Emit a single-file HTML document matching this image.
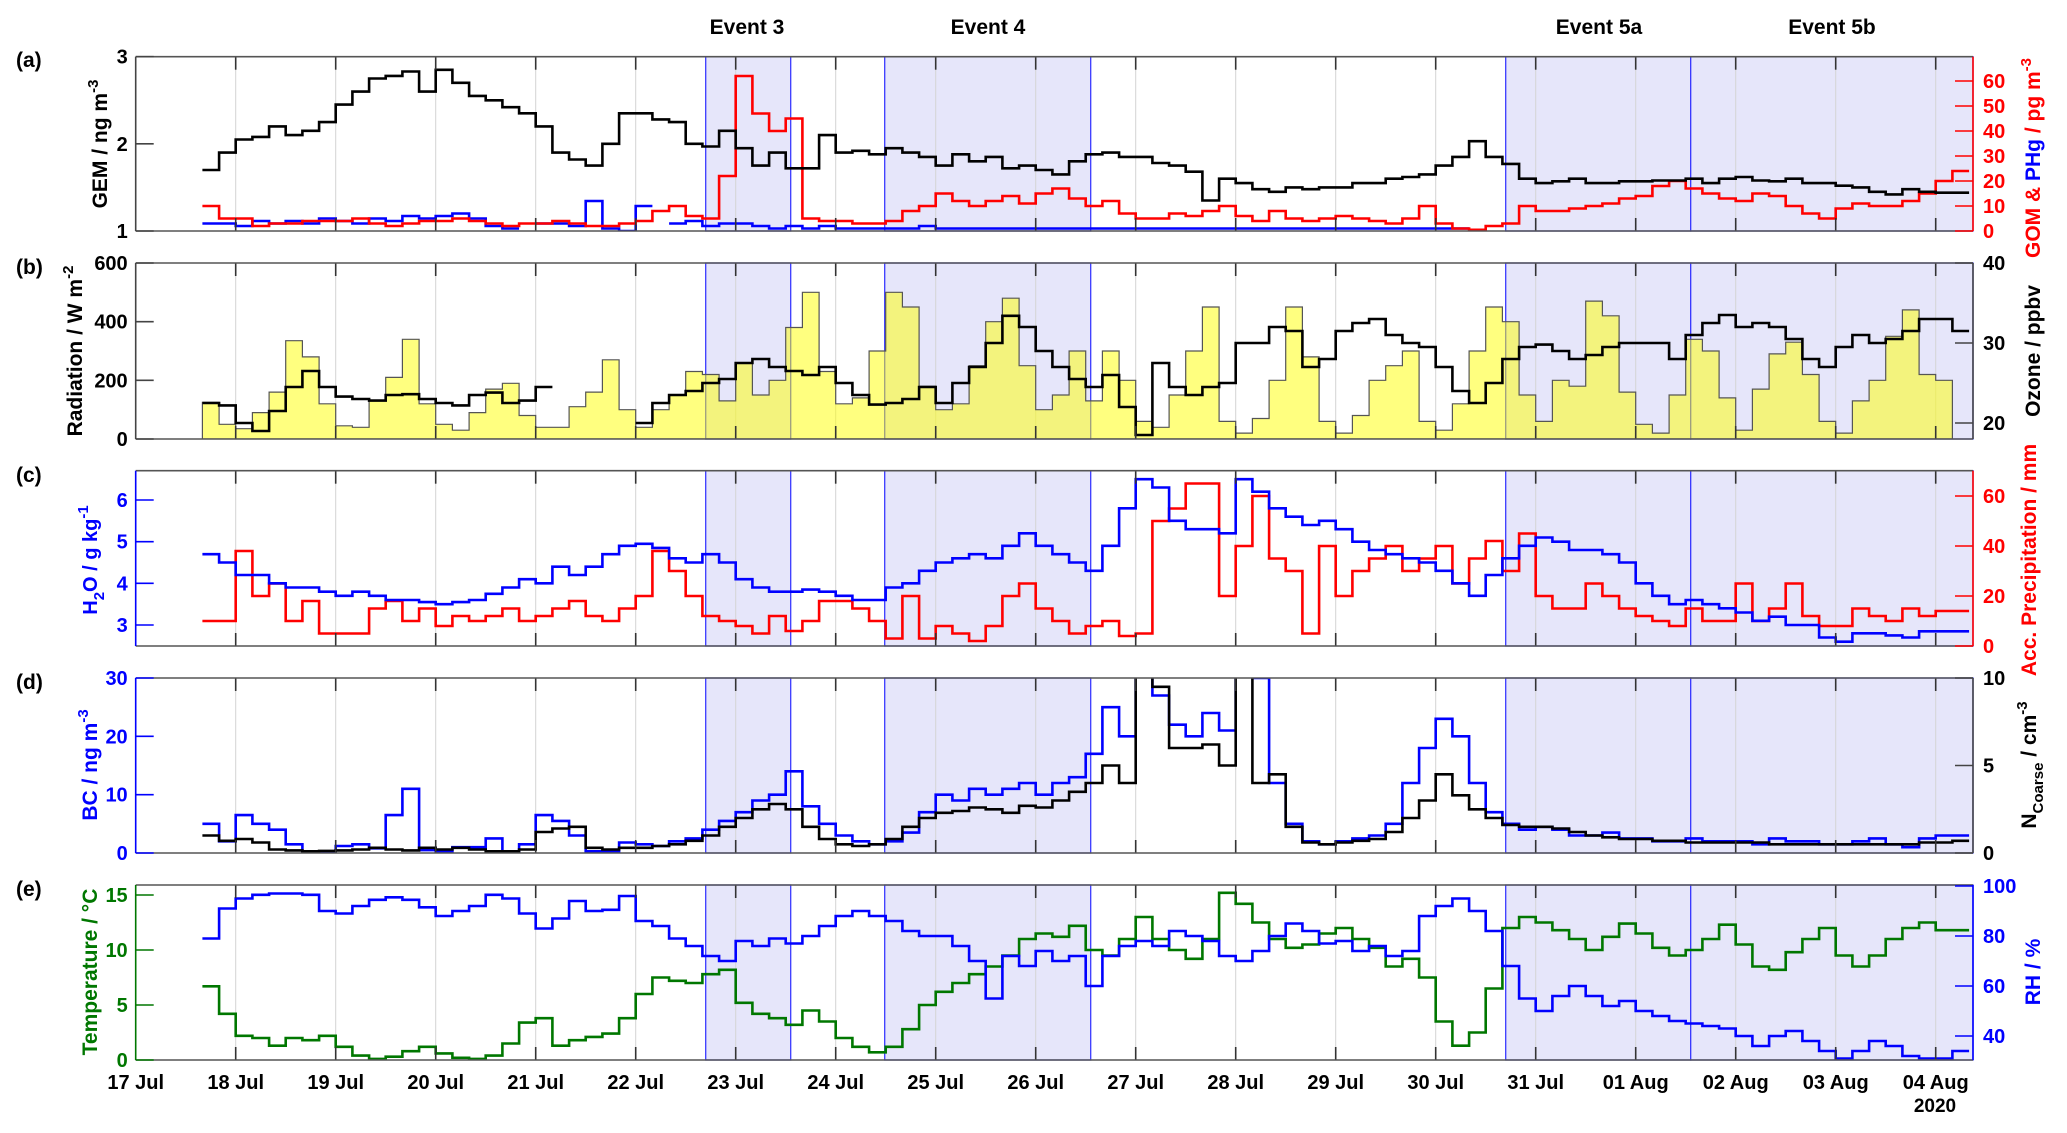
<!DOCTYPE html>
<html><head><meta charset="utf-8"><title>Mercury time series</title>
<style>
html,body{margin:0;padding:0;background:#fff;}
svg{display:block;font-family:"Liberation Sans",Arial,sans-serif;font-weight:bold;}
</style></head>
<body>
<svg id="chart" width="2067" height="1133" viewBox="0 0 2067 1133" xmlns="http://www.w3.org/2000/svg">
<g id="layer-shade"></g>
<g id="layer-grid"></g>
<g id="layer-series"></g>
<g id="layer-axes"></g>
<g id="layer-text">
  <text x="747" y="34" font-size="21" text-anchor="middle">Event 3</text>
  <text x="988" y="34" font-size="21" text-anchor="middle">Event 4</text>
  <text x="1599" y="34" font-size="21" text-anchor="middle">Event 5a</text>
  <text x="1832" y="34" font-size="21" text-anchor="middle">Event 5b</text>
  <text x="16" y="67" font-size="21">(a)</text>
  <text x="16" y="274" font-size="21">(b)</text>
  <text x="16" y="482" font-size="21">(c)</text>
  <text x="16" y="689" font-size="21">(d)</text>
  <text x="16" y="896" font-size="21">(e)</text>
  <text x="1935" y="1112" font-size="19" text-anchor="middle">2020</text>
  <text transform="translate(107,144) rotate(-90)" font-size="21" text-anchor="middle" fill="#000">GEM / ng m<tspan dy="-9" font-size="15">-3</tspan></text>
  <text transform="translate(82,351) rotate(-90)" font-size="21" text-anchor="middle" fill="#000">Radiation / W m<tspan dy="-9" font-size="15">-2</tspan></text>
  <text transform="translate(97,560) rotate(-90)" font-size="20" text-anchor="middle" fill="#0000ff">H<tspan dy="7" font-size="15">2</tspan><tspan dy="-7">O / g kg</tspan><tspan dy="-9" font-size="15">-1</tspan></text>
  <text transform="translate(97,765) rotate(-90)" font-size="21" text-anchor="middle" fill="#0000ff">BC / ng m<tspan dy="-9" font-size="15">-3</tspan></text>
  <text transform="translate(97,972) rotate(-90)" font-size="21" text-anchor="middle" fill="#007700">Temperature / °C</text>
  <text transform="translate(2040,158) rotate(-90)" font-size="21" text-anchor="middle" fill="#ff0000">GOM &amp; <tspan fill="#0000ff">PHg</tspan>  / pg m<tspan dy="-9" font-size="15">-3</tspan></text>
  <text transform="translate(2040,351) rotate(-90)" font-size="21" text-anchor="middle" fill="#000">Ozone / ppbv</text>
  <text transform="translate(2036,560) rotate(-90)" font-size="21" text-anchor="middle" fill="#ff0000">Acc. Precipitation / mm</text>
  <text transform="translate(2036,765) rotate(-90)" font-size="21" text-anchor="middle" fill="#000">N<tspan dy="7" font-size="15">Coarse</tspan><tspan dy="-7"> / cm</tspan><tspan dy="-9" font-size="15">-3</tspan></text>
  <text transform="translate(2040,972) rotate(-90)" font-size="21" text-anchor="middle" fill="#0000ff">RH / %</text>
</g>
</svg>
<script>
const T0 = 0.667;
const DT = 1/6;
const dayLabels = ['17 Jul','18 Jul','19 Jul','20 Jul','21 Jul','22 Jul','23 Jul','24 Jul','25 Jul','26 Jul','27 Jul','28 Jul','29 Jul','30 Jul','31 Jul','01 Aug','02 Aug','03 Aug','04 Aug'];
const eventStarts = [5.7, 7.49, 13.7, 15.55];
const eventEnds = [6.55, 9.55, 15.55, 18.38];

const gem = [1.7,1.9, 2.05,2.08,2.2,2.1,2.15,2.25, 2.45,2.6,2.75,2.78,2.83,2.6, 2.85,2.7,2.55,2.5,2.42,2.35, 2.2,1.9,1.82,1.75,2.0,2.35, 2.35,2.28,2.25,2.0,1.97,2.15, 1.95,1.75,1.9,1.72,1.72,2.1, 1.9,1.92,1.88,1.95,1.9,1.85, 1.75,1.88,1.8,1.85,1.72,1.75, 1.7,1.65,1.8,1.88,1.9,1.85, 1.85,1.78,1.75,1.68,1.35,1.6, 1.55,1.48,1.45,1.5,1.48,1.5, 1.5,1.55,1.55,1.6,1.62,1.65, 1.75,1.85,2.03,1.85,1.77,1.6, 1.55,1.57,1.6,1.55,1.55,1.57, 1.57,1.58,1.58,1.6,1.55,1.6, 1.62,1.58,1.57,1.6,1.55,1.55, 1.52,1.5,1.45,1.42,1.48,1.45, 1.44,1.44];
const gom = [10,5, 5,2,3,3,4,4, 4,5,3,2,3,4, 4,5,4,3,2,3, 3,4,3,2,2,3, 4,8,10,6,5,22, 62,47,40,45,5,4, 4,3,3,4,8,10, 15,12,10,12,14,11, 15,17,13,10,12,7, 5,5,7,6,8,10, 6,4,8,5,4,5, 6,5,4,3,5,10, 3,1,0.5,2,3,10, 8,8,9,10,11,13, 14,18,20,17,15,13, 12,15,14,10,7,5, 9,11,10,10,12,15, 20,24];
const phg = [3,3, 2,4,3,4,3,5, 4,3,5,4,6,5, 6,7,5,2,1,null, 3,3,2,12,1,0, 10,null,3,4,2,3, 3,2,1,2,1,2, 1,1,1,1,1,2, 1,1,1,1,1,1, 1,1,1,1,1,1, 1,1,1,1,1,1, 1,1,1,1,1,1, 1,1,1,1,1,1, 1,1,null,null,null,null, null,null,null,null,null,null, null,null,null,null,null,null, null,null,null,null,null,null, null,null,null,null,null,null, null,null];
const radiation = [125,50, 35,90,160,335,280,120, 45,40,130,210,340,120, 50,30,90,170,190,80, 40,40,110,160,270,100, 40,100,150,230,220,130, 260,150,200,380,500,230, 120,140,300,500,450,180, 100,120,250,400,480,250, 100,150,300,130,300,200, 60,40,150,300,450,60, 20,70,200,450,280,60, 20,80,200,250,300,60, 30,120,300,450,400,150, 60,200,180,470,420,160, 50,20,150,340,300,140, 30,170,290,330,220,60, 20,130,200,350,440,220, 200,null];
const ozone = [22.5,22.2, 20,19,21.5,24.5,26.5,24.5, 23.3,23,22.8,23.5,23.6,23, 22.5,22.2,23.5,23.8,22.5,22.8, 24.5,null,null,null,null,null, 20,22.5,23.5,24,25,25.5, 27.5,28,27,26.5,26,27, 25,23.5,22.3,22.5,23,24.5, 22.5,25,27,30,33.4,32, 29,27,25.5,24.5,26,22, 18.5,27.5,24.5,23.5,24.5,25, 30,30,32,31.5,27,28, 31.5,32.5,33,31,30,29.5, 27,24,22.5,25,28,29.5, 29.8,29,28,28.5,29.5,30, 30,30,28,31,32.5,33.5, 32,32.5,32,30.5,28,27, 29.5,31,30,30.5,31.5,33, 33,31.5];
const h2o = [4.7,4.5, 4.2,4.2,4.0,3.9,3.9,3.8, 3.7,3.8,3.7,3.6,3.6,3.55, 3.5,3.55,3.6,3.75,3.9,4.1, 4.0,4.4,4.2,4.4,4.7,4.9, 4.95,4.85,4.6,4.5,4.7,4.5, 4.1,3.9,3.8,3.8,3.85,3.8, 3.7,3.6,3.6,3.9,4.0,4.3, 4.5,4.6,4.7,4.6,4.9,5.2, 4.9,4.7,4.5,4.3,4.9,5.8, 6.5,6.3,5.5,5.3,5.3,5.2, 6.5,6.2,5.8,5.6,5.4,5.5, 5.3,5.0,4.8,4.7,4.6,4.5, 4.3,4.0,3.7,4.2,4.6,4.9, 5.1,5.0,4.8,4.8,4.7,4.5, 4.0,3.7,3.5,3.6,3.5,3.4, 3.3,3.1,3.2,3.0,3.0,2.7, 2.6,2.8,2.8,2.75,2.7,2.85, 2.85,2.85];
const precip = [10,10, 38,20,25,10,18,5, 5,5,15,18,10,15, 8,12,10,12,15,10, 12,15,18,12,10,15, 20,38,30,20,12,10, 8,5,12,6,10,18, 18,15,10,3,20,3, 8,5,2,8,20,25, 15,10,5,8,10,4, 5,50,55,65,65,20, 40,60,35,30,5,40, 20,30,35,40,30,35, 40,25,35,42,30,45, 20,15,15,25,20,15, 12,10,8,15,10,10, 25,10,15,25,12,8, 8,15,12,10,15,12, 14,14];
const bc = [5,2, 6.5,5,4,1.5,0.3,0.2, 1.2,1.5,0.8,6.5,11,0.5, 0.3,1,1,2.5,0.3,1.5, 6.5,5.5,3,0.3,0.3,1.8, 1.5,1.2,2,2.5,4,5.5, 7,9,10,14,8,5, 3,2,1.5,2,3.5,7, 10,9,11,10,11,12, 10,12,13,17,25,20, 32,27,22,20,24,21, 32,30,12,5,2,1.5, 2,2.5,3,5,12,18, 23,20,12,7,5,4, 4.5,4,3,3,3.5,2.5, 2.5,2,2,2.5,2,2, 2,1.5,2.5,2,2,1.5, 1.5,2,2.5,1.5,1,2.5, 3,3];
const ncoarse = [1,0.7, 0.8,0.6,0.2,0.15,0.1,0.12, 0.15,0.2,0.3,0.2,0.15,0.3, 0.2,0.3,0.2,0.1,0.1,0.2, 1.2,1.4,1.5,0.3,0.2,0.3, 0.3,0.4,0.5,0.7,1.0,1.5, 2.0,2.5,2.8,2.5,1.5,0.8, 0.5,0.4,0.5,0.8,1.5,2.0, 2.3,2.4,2.6,2.5,2.3,2.7, 2.6,3.0,3.5,4.0,5.0,4.0, 11,9.5,6,6,6.2,5, 11,4,4.5,1.5,0.6,0.5, 0.6,0.7,0.8,1.2,2.0,3.0, 4.5,3.3,2.5,2.0,1.6,1.5, 1.5,1.4,1.2,1.0,0.9,0.8, 0.8,0.7,0.7,0.6,0.6,0.6, 0.6,0.6,0.5,0.5,0.5,0.5, 0.5,0.5,0.5,0.5,0.5,0.6, 0.6,0.7];
const temperature = [6.7,4.2, 2.2,2.0,1.3,2.0,1.8,2.2, 1.2,0.4,0.1,0.3,0.8,1.2, 0.6,0.2,0.1,0.4,1.5,3.4, 3.8,1.3,1.8,2.1,2.4,3.8, 6.0,7.5,7.2,7.0,7.8,8.2, 5.2,4.2,3.8,3.2,4.5,3.5, 2.0,1.2,0.7,1.2,2.8,5.0, 6.2,7.0,7.8,8.5,9.5,11.0, 11.5,11.2,12.2,10.0,9.5,11.0, 13.0,11.0,10.0,9.2,11.0,15.2, 14.2,12.5,11.0,10.2,10.5,11.5, 12.0,11.0,10.2,8.5,9.2,7.5, 3.5,1.3,2.5,6.5,12.0,13.0, 12.5,11.8,11.0,10.0,11.2,12.4, 11.5,10.2,9.5,10.0,11.0,12.3, 10.5,8.5,8.2,9.8,11.0,12.0, 9.5,8.5,9.5,11.0,12.0,12.5, 11.8,11.8];
const rh = [79,91, 95,96.5,97,97,96.5,90, 89,92,94.5,95.5,94.5,91.5, 88,90,92,96.5,95,89, 83,87,94,90,90.5,96, 86,84,79,76,72,70, 78,76,79,77,80,84, 88,90,88,86,82,80, 80,76,70,55,72,68, 74,70,72,60,72,76, 78,76,82,80,78,72, 70,74,80,85,82,77, 78,74,76,72,74,88, 92,95,90,82,68,55, 50,56,60,56,52,54, 50,48,46,45,44,43, 40,36,40,42,38,34, 31,34,38,36,32,31, 31,34];

const leftTicksA=[1,2,3], rightTicksA=[0,10,20,30,40,50,60];
const leftTicksB=[0,200,400,600], rightTicksB=[20,30,40];
const leftTicksC=[3,4,5,6], rightTicksC=[0,20,40,60];
const leftTicksD=[0,10,20,30], rightTicksD=[0,5,10];
const leftTicksE=[0,5,10,15], rightTicksE=[40,60,80,100];

const NS='http://www.w3.org/2000/svg';
const L=135.7, R=1973, DAYW=100;
function X(t){return L+DAYW*t;}
function lin(d0,d1,p0,p1){return v=>p0+(v-d0)*(p1-p0)/(d1-d0);}
const panels=[
 {id:'a',top:56.7,bot:231, yl:lin(1,3,231,56.7), yr:lin(0,70,231,56), lt:leftTicksA, rt:rightTicksA, lc:'#444', rc:'#ff0000', ltc:'#000', rtc:'#ff0000'},
 {id:'b',top:263,bot:439, yl:lin(0,600,439,263), yr:lin(20,40,423,263), lt:leftTicksB, rt:rightTicksB, lc:'#444', rc:'#444', ltc:'#000', rtc:'#000'},
 {id:'c',top:470.7,bot:646, yl:lin(3,6,625,500), yr:lin(0,60,646,496), lt:leftTicksC, rt:rightTicksC, lc:'#0000ff', rc:'#ff0000', ltc:'#0000ff', rtc:'#ff0000'},
 {id:'d',top:678,bot:853, yl:lin(0,30,853,678), yr:lin(0,10,853,678), lt:leftTicksD, rt:rightTicksD, lc:'#0000ff', rc:'#444', ltc:'#0000ff', rtc:'#000'},
 {id:'e',top:885,bot:1060, yl:lin(0,15,1060,895), yr:lin(40,100,1036,886), lt:leftTicksE, rt:rightTicksE, lc:'#007700', rc:'#0000ff', ltc:'#007700', rtc:'#0000ff'}
];
const svg=document.getElementById('chart');
const gShade=document.getElementById('layer-shade');
const gGrid=document.getElementById('layer-grid');
const gSer=document.getElementById('layer-series');
const gAx=document.getElementById('layer-axes');
function mk(tag,attrs,parent){const e=document.createElementNS(NS,tag);for(const k in attrs)e.setAttribute(k,attrs[k]);parent.appendChild(e);return e;}

const defs=mk('defs',{},svg);
panels.forEach(p=>{const c=mk('clipPath',{id:'clip-'+p.id},defs);mk('rect',{x:L,y:p.top,width:R-L,height:p.bot-p.top},c);});

function stepPath(vals,yf){
  let d='',pen=false;
  for(let i=0;i<vals.length;i++){
    const v=vals[i];
    if(v===null||v===undefined){pen=false;continue;}
    const x0=X(T0+i*DT),x1=X(T0+(i+1)*DT),y=yf(v).toFixed(1);
    if(!pen){d+='M'+x0.toFixed(1)+','+y;pen=true;}else d+='V'+y;
    d+='H'+x1.toFixed(1);
  }
  return d;
}
function stepFill(vals,yf,base){
  let d='',pen=false;
  for(let i=0;i<vals.length;i++){
    const v=vals[i];
    if(v===null||v===undefined){if(pen){d+='V'+base+'Z';pen=false;}continue;}
    const x0=X(T0+i*DT),x1=X(T0+(i+1)*DT),y=yf(v).toFixed(1);
    if(!pen){d+='M'+x0.toFixed(1)+','+base+'V'+y;pen=true;}else d+='V'+y;
    d+='H'+x1.toFixed(1);
  }
  if(pen)d+='V'+base+'Z';
  return d;
}

panels.forEach(p=>{
  for(let k=0;k<eventStarts.length;k++){
    const r=mk('rect',{x:X(eventStarts[k]),y:p.top,width:Math.min(X(eventEnds[k]),R)-X(eventStarts[k]),height:p.bot-p.top,fill:'#e6e6fa',stroke:'#3a3aff','stroke-width':1.3},gShade);
    
    
  }
  for(let d=1;d<dayLabels.length;d++){
    const x=X(d);
    const gl=mk('line',{x1:x,x2:x,y1:p.top,y2:p.bot,stroke:'#d4d4d4','stroke-width':1},gGrid);
    
    
    const t1=mk('line',{x1:x,x2:x,y1:p.bot,y2:p.bot-13,stroke:'#333','stroke-width':1.6},gAx);
    
    
    const t2=mk('line',{x1:x,x2:x,y1:p.top,y2:p.top+13,stroke:'#333','stroke-width':1.6},gAx);
    
    
  }
  const fr=mk('path',{d:`M${L},${p.top}H${R}M${L},${p.bot}H${R}`,stroke:'#555','stroke-width':1.6,fill:'none'},gAx);
  
  
  const la=mk('line',{x1:L,x2:L,y1:p.top,y2:p.bot,stroke:p.lc,'stroke-width':1.6},gAx);
  
  
  const ra=mk('line',{x1:R,x2:R,y1:p.top,y2:p.bot,stroke:p.rc,'stroke-width':1.6},gAx);
  
  
  p.lt.forEach(v=>{
    const y=p.yl(v);
    const tk=mk('line',{x1:L,x2:L+18,y1:y,y2:y,stroke:p.lc,'stroke-width':1.6},gAx);
    
    
    const tx=mk('text',{x:L-8,y:y+7,'font-size':20,'text-anchor':'end',fill:p.ltc},gAx);
    tx.textContent=v;
    
    
  });
  p.rt.forEach(v=>{
    const y=p.yr(v);
    const tk=mk('line',{x1:R-18,x2:R,y1:y,y2:y,stroke:p.rc,'stroke-width':1.6},gAx);
    
    
    const tx=mk('text',{x:R+10,y:y+7,'font-size':20,'text-anchor':'start',fill:p.rtc},gAx);
    tx.textContent=v;
    
    
  });
});
dayLabels.forEach((lab,d)=>{
  const tx=mk('text',{x:X(d),y:1089,'font-size':20,'text-anchor':'middle',fill:'#000'},gAx);
  tx.textContent=lab;
  
  
});

function series(pi,vals,side,color,name,w){
  const p=panels[pi];
  const yf=side==='l'?p.yl:p.yr;
  const el=mk('path',{d:stepPath(vals,yf),fill:'none',stroke:color,'stroke-width':w||2.6,'stroke-linejoin':'miter','clip-path':'url(#clip-'+p.id+')'},gSer);
  
  
}
{
  const p=panels[1];
  const f=mk('path',{d:stepFill(radiation,p.yl,p.bot),fill:'#ffff00','fill-opacity':0.5,stroke:'#555','stroke-width':1.2,'clip-path':'url(#clip-b)'},gSer);
  
  
}
series(0,phg,'r','#0000ff','phg-line');
series(0,gom,'r','#ff0000','gom-line');
series(0,gem,'l','#000000','gem-line');
series(1,ozone,'r','#000000','ozone-line');
series(2,precip,'r','#ff0000','precipitation-line');
series(2,h2o,'l','#0000ff','h2o-line');
series(3,bc,'l','#0000ff','bc-line');
series(3,ncoarse,'r','#000000','ncoarse-line');
series(4,temperature,'l','#007700','temperature-line');
series(4,rh,'r','#0000ff','rh-line');
</script>
</body></html>
